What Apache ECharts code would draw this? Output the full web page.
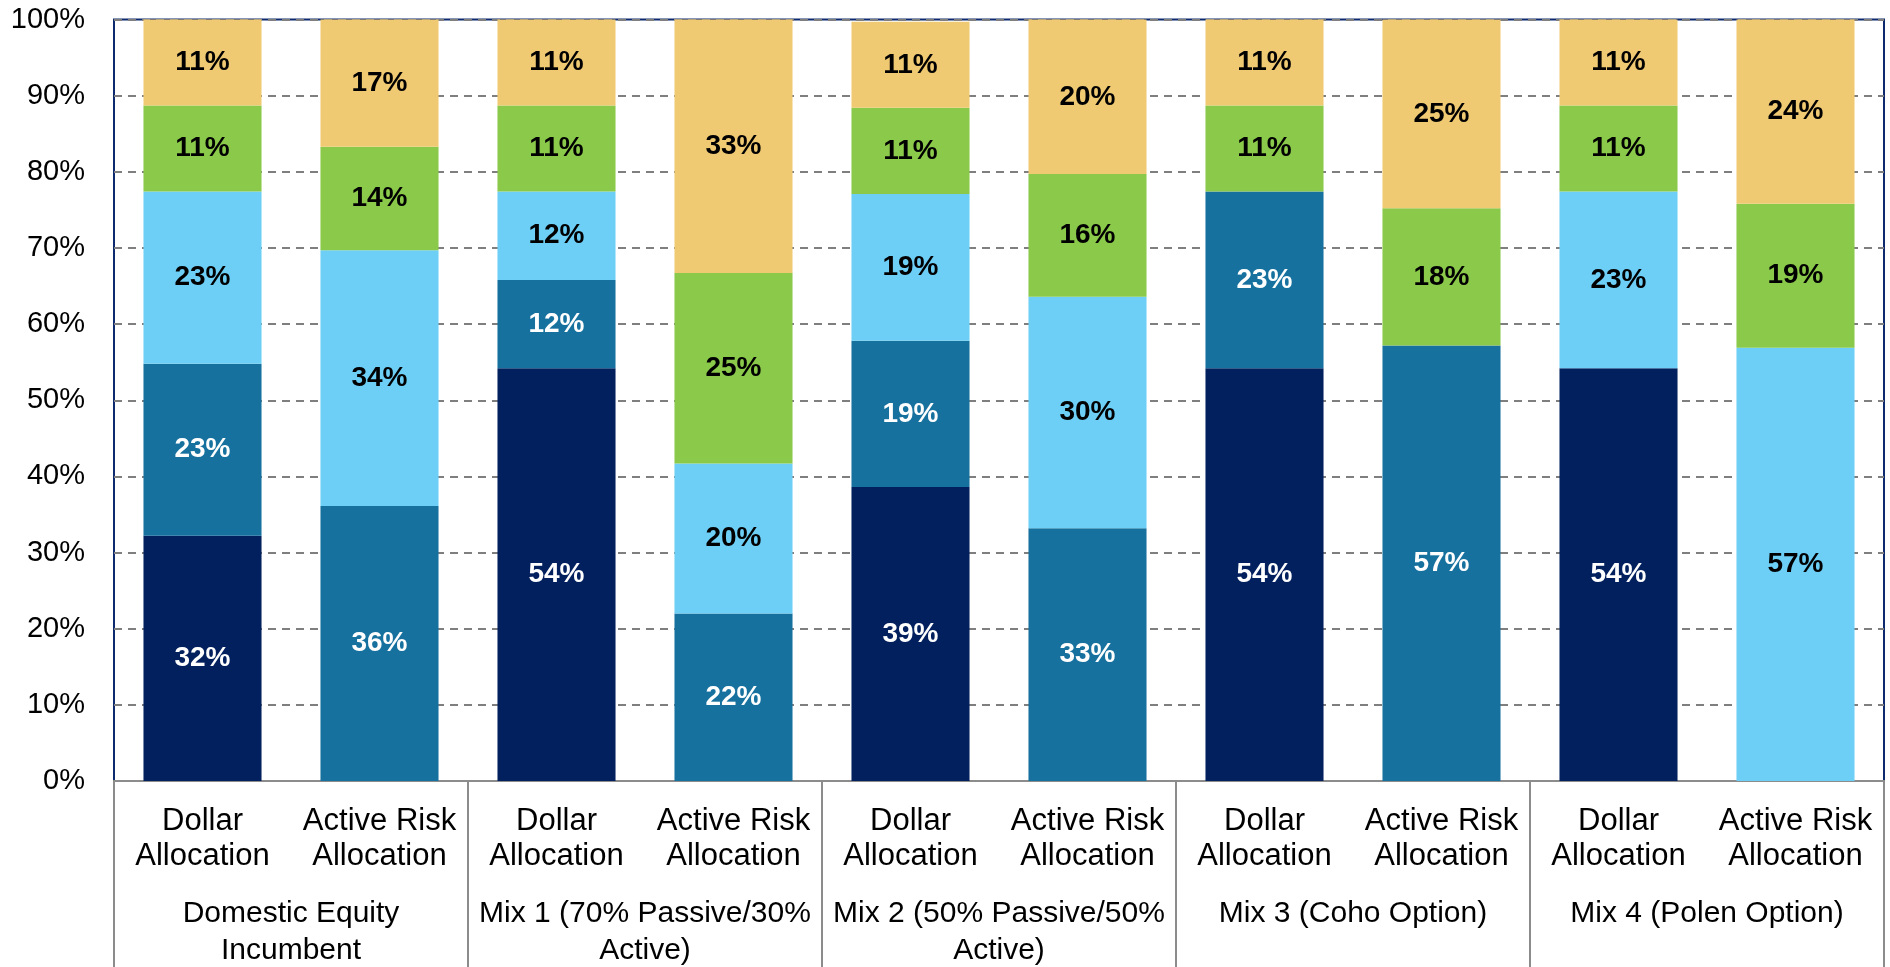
<!DOCTYPE html>
<html>
<head>
<meta charset="utf-8">
<script src="https://cdn.jsdelivr.net/npm/echarts@6/dist/echarts.min.js"></script>
<style>html,body{margin:0;padding:0;background:#fff}#c{width:1890px;height:967px}</style>
</head>
<body>
<div id="c"></div>
<script>
const categories = ['Dollar\nAllocation','Active Risk\nAllocation','Dollar\nAllocation','Active Risk\nAllocation','Dollar\nAllocation','Active Risk\nAllocation','Dollar\nAllocation','Active Risk\nAllocation','Dollar\nAllocation','Active Risk\nAllocation'];
const groups = ['Domestic Equity\nIncumbent','Mix 1 (70% Passive/30%\nActive)','Mix 2 (50% Passive/50%\nActive)','Mix 3 (Coho Option)','Mix 4 (Polen Option)'];
const yTicks = [0,10,20,30,40,50,60,70,80,90,100];
const navy   = [32.2, null, 54.2, null, 38.6, null, 54.2, null, 54.2, null];
const medium = [22.6, 36.1, 11.6, 22.0, 19.2, 33.2, 23.2, 57.2, null, null];
const light  = [22.6, 33.6, 11.6, 19.7, 19.3, 30.4, null, null, 23.2, 56.9];
const green  = [11.3, 13.6, 11.3, 25.0, 11.3, 16.1, 11.3, 18.0, 11.3, 18.9];
const yellow = [11.3, 16.7, 11.3, 33.3, 11.3, 20.3, 11.3, 24.8, 11.3, 24.2];

const FONT = 'Liberation Sans, Arial, sans-serif';
function mk(name, data, color, labelColor) {
  return {
    name, type: 'bar', stack: 'total', data, xAxisIndex: 0,
    barCategoryGap: '33.3%',
    itemStyle: { color },
    label: {
      show: true, position: 'inside', color: labelColor,
      fontFamily: FONT, fontWeight: 'bold', fontSize: 28,
      formatter: p => (p.value == null ? '' : Math.round(p.value) + '%')
    }
  };
}
const chart = echarts.init(document.getElementById('c'));
chart.setOption({
  animation: false,
  backgroundColor: '#fff',
  grid: { left: 114, right: 6, top: 19.5, bottom: 186, outerBoundsMode: 'none', containLabel: false, show: true, borderColor: '#0d2a6e', borderWidth: 2, backgroundColor: 'transparent' },
  xAxis: [
    {
      type: 'category', data: categories, position: 'bottom',
      axisLine: { show: true, lineStyle: { color: '#8c8c8c', width: 2 } },
      axisTick: { show: false },
      axisLabel: { interval: 0, color: '#000', fontFamily: FONT, fontSize: 31, lineHeight: 35, margin: 23 }
    },
    {
      type: 'category', data: groups, position: 'bottom',
      axisLine: { show: true, lineStyle: { color: '#8c8c8c', width: 2 } },
      axisTick: { show: true, interval: 0, length: 186, lineStyle: { color: '#8c8c8c', width: 2 } },
      axisLabel: { interval: 0, color: '#000', fontFamily: FONT, fontSize: 30, lineHeight: 37, margin: 114 }
    }
  ],
  yAxis: {
    type: 'value', min: yTicks[0], max: yTicks[yTicks.length - 1], interval: 10,
    axisLine: { show: false }, axisTick: { show: false },
    axisLabel: { formatter: '{value}%', color: '#000', fontFamily: FONT, fontSize: 29, margin: 29 },
    splitLine: { show: true, lineStyle: { color: '#7f7f7f', width: 2, type: [8, 6] } }
  },
  series: [
    mk('Navy', navy, '#03205e', '#fff'),
    mk('Medium', medium, '#17719e', '#fff'),
    mk('Light', light, '#6dcff6', '#000'),
    mk('Green', green, '#8bc94a', '#000'),
    mk('Yellow', yellow, '#f0ca73', '#000')
  ]
});
</script>
</body>
</html>
